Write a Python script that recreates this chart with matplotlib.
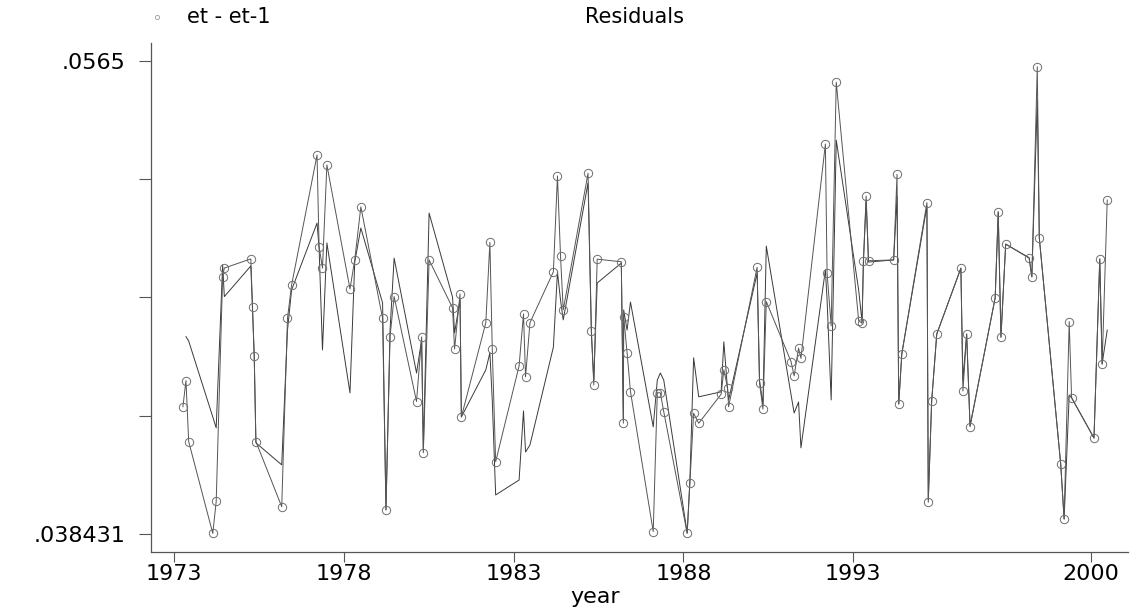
"""
Quarterly residuals and their first difference, 1973-2000.

Output: out.png
"""

import matplotlib

matplotlib.use("Agg")
import matplotlib.pyplot as plt
import numpy as np
from matplotlib.lines import Line2D

# time variable (fractional years)
years = [
    1973.26, 1973.35, 1973.43,
    1974.14, 1974.24, 1974.43, 1974.48,
    1975.26, 1975.31, 1975.36, 1975.41,
    1976.17, 1976.34, 1976.46,
    1977.21, 1977.27, 1977.37, 1977.50,
    1978.18, 1978.32, 1978.50,
    1979.14, 1979.24, 1979.36, 1979.48,
    1980.14, 1980.29, 1980.34, 1980.51,
    1981.20, 1981.26, 1981.42, 1981.46,
    1982.18, 1982.30, 1982.37, 1982.47,
    1983.16, 1983.29, 1983.35, 1983.48,
    1984.17, 1984.29, 1984.38, 1984.46,
    1985.19, 1985.29, 1985.36, 1985.46,
    1986.17, 1986.23, 1986.24, 1986.34, 1986.44,
    1987.11, 1987.23, 1987.32, 1987.42,
    1988.11, 1988.19, 1988.30, 1988.45,
    1989.11, 1989.19, 1989.30, 1989.33,
    1990.17, 1990.24, 1990.34, 1990.44,
    1991.17, 1991.26, 1991.39, 1991.46,
    1992.18, 1992.23, 1992.35, 1992.50,
    1993.16, 1993.26, 1993.30, 1993.38, 1993.45,
    1994.19, 1994.29, 1994.34, 1994.43,
    1995.17, 1995.21, 1995.31, 1995.46,
    1996.17, 1996.23, 1996.34, 1996.44,
    1997.18, 1997.27, 1997.35, 1997.49,
    1998.18, 1998.26, 1998.42, 1998.48,
    1999.11, 1999.21, 1999.36, 1999.43,
    2000.09, 2000.26, 2000.33, 2000.48,
]

# et - et-1
diff_vals = [
    0.04329, 0.04429, 0.04196,
    0.03845, 0.03967, 0.04826, 0.04859,
    0.04894, 0.04711, 0.04523, 0.04196,
    0.03947, 0.04668, 0.04794,
    0.05291, 0.04941, 0.04859, 0.05253,
    0.04779, 0.04890, 0.05093,
    0.04667, 0.03935, 0.04597, 0.04750,
    0.04349, 0.04596, 0.04153, 0.04890,
    0.04707, 0.04550, 0.04760, 0.04290,
    0.04650, 0.04957, 0.04550, 0.04119,
    0.04485, 0.04684, 0.04443, 0.04650,
    0.04845, 0.05211, 0.04905, 0.04699,
    0.05221, 0.04620, 0.04412, 0.04893,
    0.04883, 0.04266, 0.04673, 0.04536, 0.04387,
    0.03852, 0.04383, 0.04382, 0.04310,
    0.03845, 0.04037, 0.04304, 0.04266,
    0.04377, 0.04470, 0.04400, 0.04329,
    0.04862, 0.04421, 0.04320, 0.04731,
    0.04501, 0.04447, 0.04553, 0.04514,
    0.05333, 0.04839, 0.04638, 0.05569,
    0.04658, 0.04648, 0.04887, 0.05134, 0.04887,
    0.04890, 0.05217, 0.04339, 0.04530,
    0.05109, 0.03964, 0.04351, 0.04607,
    0.04858, 0.04389, 0.04607, 0.04253,
    0.04746, 0.05074, 0.04594, 0.04950,
    0.04899, 0.04826, 0.05628, 0.04973,
    0.04109, 0.03900, 0.04654, 0.04364,
    0.04209, 0.04893, 0.04491, 0.05119,
]

# Residuals
resid_vals = [
    np.nan, 0.04597, 0.04580,
    0.04290, 0.04248, 0.04871, 0.04750,
    0.04867, 0.04699, 0.04523, 0.04191,
    0.04107, 0.04622, 0.04775,
    0.05031, 0.04936, 0.04546, 0.04955,
    0.04382, 0.04882, 0.05012,
    0.04726, 0.03935, 0.04622, 0.04897,
    0.04458, 0.04584, 0.04164, 0.05069,
    0.04748, 0.04611, 0.04737, 0.04290,
    0.04470, 0.04535, 0.04355, 0.03992,
    0.04049, 0.04313, 0.04156, 0.04183,
    0.04557, 0.04844, 0.04737, 0.04661,
    0.05184, 0.04603, 0.04431, 0.04802,
    0.04878, 0.04279, 0.04699, 0.04622, 0.04729,
    0.04252, 0.04431, 0.04458, 0.04431,
    0.03847, 0.04049, 0.04516, 0.04367,
    0.04386, 0.04577, 0.04393, 0.04355,
    0.04840, 0.04431, 0.04336, 0.04943,
    0.04374, 0.04305, 0.04347, 0.04172,
    0.04852, 0.04737, 0.04355, 0.05348,
    0.04775, 0.04653, 0.04882, 0.05119, 0.04882,
    0.04890, 0.05134, 0.04340, 0.04531,
    0.05096, 0.03973, 0.04351, 0.04607,
    0.04859, 0.04431, 0.04607, 0.04256,
    0.04745, 0.05073, 0.04596, 0.04951,
    0.04897, 0.04825, 0.05501, 0.04974,
    0.04110, 0.03900, 0.04374, 0.04363,
    0.04210, 0.04894, 0.04493, 0.04622,
]

x_ticks = [1973, 1978, 1983, 1988, 1993, 2000]
y_min, y_max = 0.038431, 0.0565
y_ticks = np.linspace(y_min, y_max, 5)
y_tick_labels = [".038431", "", "", "", ".0565"]

FONT = "DejaVu Sans"


def main() -> None:
    plt.rcParams["font.family"] = FONT

    fig = plt.figure(figsize=(11.31, 6.10), dpi=100)
    ax = fig.add_axes([0.1335, 0.0951, 0.8638, 0.8344])

    ax.plot(years, resid_vals, color="#3a3a3a", lw=0.7, zorder=2)
    ax.plot(
        years, diff_vals, color="#555555", lw=0.7,
        marker="o", markersize=6, markerfacecolor="none",
        markeredgecolor="#6e6e6e", markeredgewidth=0.7, zorder=3,
    )

    ax.set_xlim(1972.32, 2001.09)
    ax.set_ylim(0.03774, 0.05719)

    ax.set_xticks(x_ticks)
    ax.set_xticklabels([str(t) for t in x_ticks], fontsize=16)
    ax.set_yticks(y_ticks)
    ax.set_yticklabels(y_tick_labels, fontsize=16)
    ax.tick_params(axis="x", length=7, width=0.8, pad=2, color="#555555")
    ax.tick_params(axis="y", length=9, width=0.8, pad=9, color="#555555")

    for side in ("top", "right"):
        ax.spines[side].set_visible(False)
    for side in ("left", "bottom"):
        ax.spines[side].set_color("#555555")
        ax.spines[side].set_linewidth(0.9)

    # key across the top
    fig.add_artist(Line2D(
        [157 / 1131], [1 - 17 / 610], transform=fig.transFigure,
        marker="o", markersize=3, markerfacecolor="none",
        markeredgecolor="#9a9a9a", markeredgewidth=0.6, linestyle="none",
    ))
    fig.text(187 / 1131, 1 - 17 / 610, "et - et-1", fontsize=15,
             ha="left", va="center")
    fig.text(585 / 1131, 1 - 17 / 610, "Residuals", fontsize=15,
             ha="left", va="center")

    fig.text(595 / 1131, 1 - 597 / 610, "year", fontsize=16,
             ha="center", va="center")

    fig.savefig("out.png", dpi=100, facecolor="white")
    plt.close(fig)


if __name__ == "__main__":
    main()
